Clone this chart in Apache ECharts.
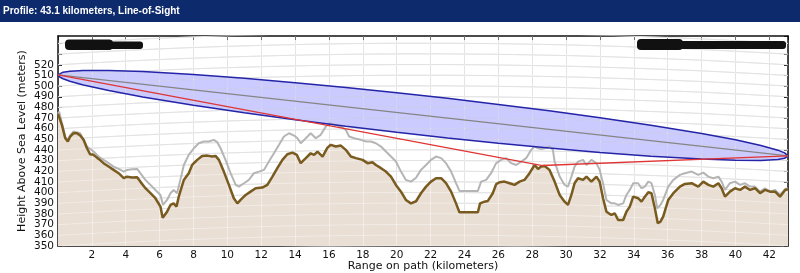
<!DOCTYPE html>
<html>
<head>
<meta charset="utf-8">
<script src="https://cdn.jsdelivr.net/npm/echarts@6/dist/echarts.min.js"></script>
<style>
html,body{margin:0;padding:0;background:#fff;}
#c{width:800px;height:273px;}
</style>
</head>
<body>
<div id="c"></div>
<script>
// ---- data ----
const kmTerrain = [0,0.07,0.23,0.43,0.58,0.72,0.92,1.12,1.31,1.51,1.71,1.9,2.1,2.4,2.69,2.99,3.28,3.58,3.88,4.08,4.37,4.67,4.86,5.16,5.46,5.75,6.05,6.18,6.44,6.64,6.83,7.0,7.13,7.43,7.72,7.92,8.22,8.51,8.81,9.11,9.3,9.5,9.79,10.09,10.38,10.59,10.78,11.08,11.37,11.67,12.06,12.36,12.66,12.95,13.25,13.54,13.84,14.1,14.33,14.63,14.92,15.12,15.32,15.62,15.91,16.11,16.4,16.7,16.99,17.29,17.59,17.98,18.28,18.57,18.77,19.07,19.36,19.66,19.95,20.25,20.54,20.84,21.14,21.43,21.73,22.02,22.32,22.62,22.91,23.21,23.5,23.7,24.09,24.49,24.79,24.92,25.18,25.38,25.67,25.87,26.07,26.36,26.66,26.95,27.25,27.54,27.84,28.14,28.34,28.53,28.73,29.02,29.32,29.62,29.91,30.11,30.31,30.5,30.7,31.0,31.2,31.49,31.79,31.98,32.18,32.38,32.67,32.87,33.07,33.37,33.56,33.76,33.96,34.25,34.45,34.65,34.85,35.04,35.24,35.41,35.57,35.73,36.03,36.33,36.72,37.01,37.41,37.8,38.1,38.4,38.69,38.99,39.18,39.38,39.67,39.97,40.27,40.56,40.86,41.15,41.45,41.74,42.04,42.34,42.63,42.93,43.1];
const elevTerrain = [474,475,463.6,451,448,452.7,455.8,455.8,453.6,449.6,441.7,436,435.5,431.7,427.7,424.5,421.4,418.3,413.6,415,414.2,414.5,410.4,404.2,399.5,394.8,386.9,376.6,382.2,388.5,390,387,396.3,412,418.3,426,430.8,434.5,434.8,433.9,434.5,430.8,419.8,407.3,394.8,390,393.2,397.9,401,404.2,404.8,407.3,415.1,423,430.8,436.1,437.6,435.5,427.7,432.4,437,435.5,438.6,433.9,442.3,444.9,443.3,444.2,440.2,433.9,432.4,430.8,427.7,428.6,426,423,419.8,415.1,407.3,401,393.2,390,392,399.5,405.7,410.4,413.6,413.6,408.9,401,390,381.6,381.6,381.6,381.6,390,391.6,392.3,399.5,408,409.8,410.4,408.9,407.3,410.4,412,418.3,426,422.3,424.5,425.1,421.4,410.4,397.9,391.6,388.5,397.9,408.9,413.6,412,415.1,410.4,415.1,410.4,394.8,382.2,379.1,380.7,374.4,374.4,382.2,386.9,396.3,394.8,391.6,396.3,400.4,399.5,385.4,371.3,372.8,377.5,393.2,399.5,405.7,408.2,408.9,405.7,410.4,407.3,405.7,408.9,404.2,396.3,401,404.2,402.6,405.7,402.6,404.2,399.5,402.6,401,401,396.3,402.6,403.2];

const kmClutter = [0,0.07,0.43,0.58,0.72,0.92,1.31,1.71,2.1,2.4,2.69,2.99,3.28,3.58,3.88,4.08,4.37,4.67,4.86,5.16,5.46,5.75,6.05,6.2,6.44,6.64,6.83,7.03,7.2,7.43,7.72,8.02,8.31,8.61,8.9,9.2,9.4,9.6,9.89,10.19,10.49,10.68,10.98,11.27,11.57,11.86,12.16,12.45,12.75,13.05,13.34,13.64,13.94,14.14,14.33,14.63,14.92,15.22,15.51,15.81,16.01,16.4,16.7,16.99,17.19,17.49,17.88,18.18,18.47,18.77,19.07,19.36,19.66,19.95,20.25,20.54,20.84,21.14,21.43,21.73,22.02,22.32,22.62,22.91,23.21,23.5,23.7,24.09,24.49,24.79,24.98,25.28,25.57,25.87,26.16,26.46,26.76,27.05,27.35,27.64,27.94,28.14,28.34,28.53,28.73,29.02,29.22,29.32,29.62,29.91,30.11,30.31,30.5,30.7,31.0,31.2,31.49,31.79,31.98,32.18,32.38,32.67,32.87,33.07,33.37,33.56,33.76,33.96,34.25,34.45,34.65,34.85,35.04,35.24,35.38,35.57,35.73,36.03,36.33,36.72,37.01,37.41,37.8,38.1,38.4,38.69,38.99,39.18,39.38,39.67,39.97,40.27,40.56,40.86,41.15,41.45,41.74,42.04,42.34,42.63,42.93,43.1];
const elevClutter = [474,476,452,450,454,457.4,455.8,443.3,438.6,433.9,430.8,427.7,424.5,422.3,419.8,421.4,422,422.3,418.3,412,407.3,402.6,397.9,388.5,393.2,399.5,402.6,399.5,410.4,426,435.5,441.7,446.4,448,448,449.6,447.4,441.7,430.8,418.3,407.3,405.7,408.9,412,418.3,419.8,421.4,429.2,437,444.9,452.7,455.8,453.6,451.1,446.4,451.1,455.8,451.1,454.3,462,465.2,463.6,462,459,452.7,451.1,449.6,448,448,446.4,443.3,438.6,433.9,429.2,419.8,412,410.4,414,421.4,426,430.8,433.9,432.4,427.7,419.8,408.9,401.7,401.7,401.7,401.7,410.4,412,418.3,427.7,430.8,432.4,427.7,426,429.2,432.4,440.2,443.3,441.7,441,441.7,443.3,440.2,429.2,415.1,407.3,405.7,415.1,424.5,429.2,430.8,426,430.8,427.7,421.4,408.9,393.2,390,390,388.5,390,397.9,402.6,408.9,408.9,404.2,405.7,410.4,408.9,397.9,385.4,388.5,393.2,405.7,412,416.7,418.3,419.8,416.7,418.8,415.1,413.6,415.1,410.4,402.6,408.9,410.4,407.3,408.9,405.7,405.7,401,404.2,401,402.6,397.9,403.2,404.2];

const kmFresnel = [0,0.1,0.3,0.7,1.5,3,5,8,11,14,17,20,23,26,29,32,35,38,40,41.5,42.5,42.9,43.1];
const fresnelUpper = [510.5,512.1,513.1,514.0,514.7,514.7,513.6,510.8,507.3,503.2,498.7,493.8,488.5,482.8,476.8,470.3,463.3,455.5,449.6,444.3,439.9,437.4,434.5];
const fresnelLower = [510.5,508.5,506.9,504.6,501.1,495.8,489.8,482.0,474.9,468.4,462.4,456.7,451.4,446.5,441.9,437.8,434.3,431.5,430.4,430.3,431.2,432.3,434.5];

const kmSight = [0,43.1];
const elevSight = [510.5,434.5];
const kmRay = [0,28.6,43.1];
const elevRay = [510.5,425.5,434.5];

// curved (earth-bulge) background grid lines
const kmBulge = [0,2.5,5,7.5,10,12.5,15,17.5,20,21.55,23,25.5,28,30.5,33,35.5,38,40.5,43.1];
const bulge = [0,2.2,4.2,5.9,7.3,8.4,9.3,9.9,10.2,10.2,10.2,9.9,9.3,8.5,7.3,5.9,4.3,2.3,0];
const gridLevels = [330,340,350,360,370,380,390,400,410,420,430,440,450,460,470,480,490,500,510,520,530,540,550];
const xTickValues = [2,4,6,8,10,12,14,16,18,20,22,24,26,28,30,32,34,36,38,40,42];
const yLabelsA = [350,370,390,410,430,450,470,490,510];
const yLabelsB = [360,380,400,420,440,460,480,500,520];

// ---- build ----
const zip = (a,b) => a.map((v,i)=>[v,b[i]]);
const curveData = [];
gridLevels.forEach(l => {
  kmBulge.forEach((k,i)=>curveData.push([k, l + bulge[i]]));
  curveData.push(['-','-']);
});

const FONT = 'DejaVu Sans';
const chart = echarts.init(document.getElementById('c'), null, {renderer:'canvas'});
const axisCommon = {min:0, max:43.1, interval:2, type:'value'};
const yCommon = {type:'value', min:350, max:547, interval:10};
const yLabelStyle = {show:true, margin:4, fontFamily:FONT, fontSize:10.5, color:'#111',
  showMinLabel:true, showMaxLabel:false, hideOverlap:false};
chart.setOption({
  animation:false,
  backgroundColor:'#ffffff',
  title:{
    text:'Profile: 43.1 kilometers, Line-of-Sight',
    left:3, top:6, padding:0,
    textStyle:{color:'#ffffff', fontSize:10, fontWeight:'bold', fontFamily:'"Liberation Sans", Arial, sans-serif'}
  },
  graphic:[
    {type:'rect', z:-10, shape:{x:0,y:0,width:800,height:22}, style:{fill:'#0d2a6c'}},
    {type:'rect', z:100, shape:{x:65,y:39.5,width:48,height:10.5,r:4}, style:{fill:'#111'}},
    {type:'rect', z:100, shape:{x:100,y:41.5,width:43,height:7.5,r:3}, style:{fill:'#111'}},
    {type:'rect', z:100, shape:{x:637,y:39,width:46,height:11,r:4}, style:{fill:'#111'}},
    {type:'rect', z:100, shape:{x:676,y:41,width:110,height:8,r:3}, style:{fill:'#111'}}
  ],
  grid:{left:58, right:12, top:36, bottom:27, containLabel:false, outerBoundsMode:'none'},
  xAxis:[
    Object.assign({}, axisCommon, {
      position:'bottom',
      name:'Range on path (kilometers)', nameLocation:'middle', nameGap:15, nameMoveOverlap:false,
      nameTextStyle:{fontFamily:FONT, fontSize:11, color:'#111'},
      axisLine:{show:true, lineStyle:{color:'#111', width:1.5}},
      axisTick:{show:true, inside:true, length:4, lineStyle:{color:'#111'}},
      axisLabel:{show:true, margin:4, fontFamily:FONT, fontSize:10.5, color:'#111',
        showMinLabel:false, showMaxLabel:false, hideOverlap:false,
        formatter:v => xTickValues.indexOf(v) >= 0 ? String(v) : ''},
      splitLine:{show:true, lineStyle:{color:'#d2d2d2', width:1}}
    }),
    Object.assign({}, axisCommon, {
      position:'top',
      axisLine:{show:true, onZero:false, lineStyle:{color:'#111', width:1.5}},
      axisTick:{show:true, inside:true, length:4, lineStyle:{color:'#111'}},
      axisLabel:{show:false}, splitLine:{show:false}
    })
  ],
  yAxis:[
    Object.assign({}, yCommon, {position:'left',
      name:'Height Above Sea Level (meters)', nameLocation:'middle', nameGap:30, nameMoveOverlap:false,
      nameTextStyle:{fontFamily:FONT, fontSize:11, color:'#111'},
      axisLine:{show:true, lineStyle:{color:'#111', width:1.5}},
      axisTick:{show:true, inside:true, length:4, lineStyle:{color:'#111'}},
      axisLabel:Object.assign({}, yLabelStyle, {formatter:v => yLabelsA.indexOf(v) >= 0 ? String(v) : ''}),
      splitLine:{show:false}
    }),
    Object.assign({}, yCommon, {position:'right',
      axisLine:{show:true, onZero:false, lineStyle:{color:'#111', width:1.5}},
      axisTick:{show:true, inside:true, length:4, lineStyle:{color:'#111'}},
      axisLabel:{show:false}, splitLine:{show:false}
    }),
    Object.assign({}, yCommon, {position:'left', offset:0,
      axisLine:{show:false}, axisTick:{show:false}, splitLine:{show:false},
      axisLabel:Object.assign({}, yLabelStyle, {formatter:v => yLabelsB.indexOf(v) >= 0 ? String(v) : ''})
    })
  ],
  series:[
    {type:'line', name:'gridCurvesUnder', data:curveData, z:0, silent:true,
      symbol:'none', connectNulls:false, lineStyle:{color:'#d0d0d0', width:1}},
    {type:'custom', name:'fresnelZone', z:1, silent:true, clip:true,
      data:[[kmFresnel[0], fresnelUpper[0]]],
      renderItem:(params, api) => {
        const pts = [];
        for (let i = 0; i < kmFresnel.length; i++) pts.push(api.coord([kmFresnel[i], fresnelUpper[i]]));
        for (let i = kmFresnel.length - 1; i >= 0; i--) pts.push(api.coord([kmFresnel[i], fresnelLower[i]]));
        return {type:'polygon', shape:{points:pts}, style:{fill:'rgba(140,140,255,0.45)', stroke:null}};
      }},
    {type:'line', name:'terrainFill', data:zip(kmTerrain, elevTerrain), z:3,
      symbol:'none', lineStyle:{width:0}, silent:true,
      areaStyle:{color:'#e9dfd5', opacity:1, origin:'start'}},
    {type:'line', name:'gridCurvesOver', data:curveData, z:4, silent:true,
      symbol:'none', connectNulls:false, lineStyle:{color:'rgba(255,255,255,0.4)', width:1},
      markLine:{silent:true, symbol:'none', label:{show:false},
        lineStyle:{color:'rgba(255,255,255,0.4)', width:1, type:'solid'},
        data:xTickValues.map(v=>({xAxis:v}))}},
    {type:'line', name:'clutter', data:zip(kmClutter, elevClutter), z:6,
      symbol:'none', lineStyle:{color:'#b5b5b5', width:2}},
    {type:'line', name:'terrain', data:zip(kmTerrain, elevTerrain), z:7,
      symbol:'none', lineStyle:{color:'#7a5b1f', width:2.5}},
    {type:'line', name:'fresnelUpper', data:zip(kmFresnel, fresnelUpper), z:8,
      symbol:'none', lineStyle:{color:'#2424a8', width:1.5}},
    {type:'line', name:'fresnelLower', data:zip(kmFresnel, fresnelLower), z:8,
      symbol:'none', lineStyle:{color:'#2424a8', width:1.5}},
    {type:'line', name:'lineOfSight', data:zip(kmSight, elevSight), z:8,
      symbol:'none', lineStyle:{color:'#858585', width:1.2}},
    {type:'line', name:'ray', data:zip(kmRay, elevRay), z:9,
      symbol:'none', lineStyle:{color:'#e03535', width:1.3}}
  ]
});
</script>
</body>
</html>
